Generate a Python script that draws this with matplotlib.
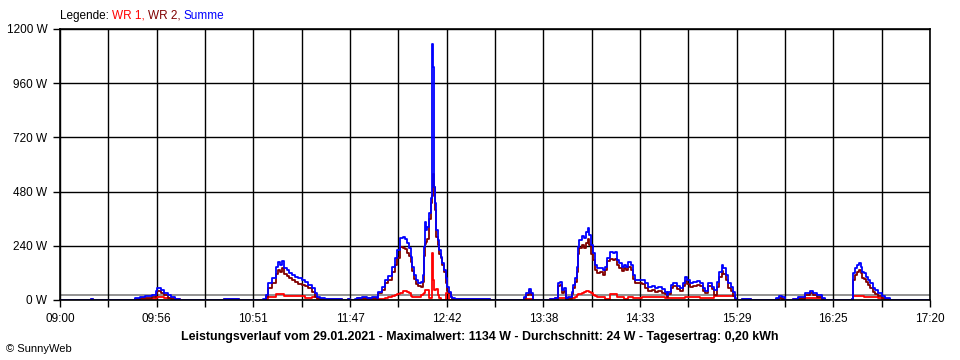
import matplotlib
matplotlib.use("Agg")
import matplotlib.pyplot as plt

plt.rcParams['font.family'] = ['Liberation Sans', 'DejaVu Sans']

# minutes after 09:00, power in W
minutes = [0, 18, 19, 43, 46, 49, 53, 55, 56, 58, 60, 62, 64, 66, 69, 94, 103,
           116.7, 118.4, 119.5, 121.8, 124.1, 125.3, 126.4, 127.6, 128.7, 130.5, 131.6, 133.3,
           135.1, 136.8, 139.1, 140.8, 142.5, 144.8, 146.6, 147.7, 149.4, 152.3, 156, 162,
           165.5, 166.5,
           169.5, 170.7, 173.6, 176.4, 179.3, 182.2, 182.8, 185.1, 186.8, 188.5, 190.8, 192.5,
           193.7, 195.4, 197.1, 198.3, 199.4, 200.6, 201.7, 202.3, 203.4, 204.6, 205.7, 207.5,
           208.6, 209.2, 209.8, 210.3, 210.9, 212.1, 213.2, 213.8, 214.4, 214.9, 215.5, 216.1,
           217.2, 217.8, 219.0, 219.5, 220.7, 221.8, 222.4, 223.6, 224.7, 225.3, 227, 247,
           266.7, 268, 269.5, 270.7, 271.8,
           281.6, 284.5, 286.2, 287.4, 288.5, 289.7, 290.8, 292.0, 294.3, 294.8, 296.0, 297.1,
           297.7, 298.3, 300.0, 301.1, 302.3, 303.4, 304.0, 305.2, 306.3, 307.5, 308.6, 310.3,
           312.1, 313.2, 314.4, 316.1, 317.8, 319.0, 320.1, 321.3, 323.0, 324.1, 325.3, 326.4,
           328.2, 329.3, 330.5, 332.2, 334.5, 336.2, 337.9, 340.2, 342.0, 343.7, 346.0, 347.7,
           348.9, 349.4, 351.1, 352.3, 354.6, 356.3, 358.0, 359.2, 360.3, 362.1, 363.8, 366.1,
           367.8, 369.5, 370.7, 372.4, 374.7, 375.9, 377.6, 378.7, 380.5, 381.0, 382.8, 383.9,
           385.6, 386.8, 387.9, 388.5, 392, 397,
           411.5, 413, 415, 416.7, 421.3, 424.1, 428.2, 431.0, 432.8, 435.1, 437.9, 439.7,
           455.2, 455.7, 456.9, 458.0, 459.2, 460.3, 460.9, 462.1, 463.2, 464.4, 465.5, 467.2,
           468.4, 470.1, 472.4, 474.1, 477.0, 500]

wr1 = [0, 0, 0, 4, 5, 6, 6, 8, 12, 12, 10, 10, 10, 4, 0, 1, 0,
       2, 5, 15, 15, 26, 26, 26, 26, 18, 18, 18, 18,
       18, 18, 18, 9, 9, 15, 15, 5, 2, 0, 0, 0,
       0, 0,
       2, 3, 3, 3, 3, 3, 4, 5, 8, 12, 18, 22,
       28, 32, 41, 41, 37, 30, 18, 14, 12, 14, 15, 22,
       28, 30, 44, 44, 44, 10, 10, 207, 89, 44, 44, 47,
       22, 10, 0, 0, 0, 30, 30, 0, 0, 0, 0, 0,
       2, 5, 5, 3, 0,
       3, 8, 8, 10, 8, 8, 5, 5, 8, 8, 15, 20,
       26, 26, 32, 36, 40, 40, 37, 30, 22, 18, 15, 15,
       15, 3, 3, 26, 26, 26, 15, 15, 15, 3, 3, 15,
       15, 10, 10, 10, 15, 15, 15, 15, 15, 15, 15, 7,
       7, 7, 7, 7, 7, 7, 7, 15, 15, 15, 15, 15,
       7, 7, 7, 7, 7, 18, 18, 18, 18, 18, 18, 18,
       18, 18, 0, 0, 0, 0,
       4, 7, 5, 0, 3, 7, 7, 7, 7, 7, 3, 0,
       0, 18, 18, 18, 18, 18, 18, 14, 14, 14, 14, 14,
       14, 10, 5, 2, 0, 0]

wr2 = [0, 3, 0, 6, 8, 9, 15, 28, 38, 32, 20, 9, 3, 2, 0, 3, 0,
       1, 15, 55, 76, 115, 135, 122, 140, 115, 108, 96, 88,
       80, 72, 66, 64, 52, 35, 15, 8, 4, 4, 3, 0,
       3, 0,
       1, 7, 9, 7, 9, 7, 30, 45, 75, 88, 125, 155,
       185, 235, 232, 224, 210, 195, 168, 128, 95, 72, 60, 58,
       80, 195, 250, 255, 270, 360, 430, 460, 560, 500, 400, 280,
       245, 205, 185, 155, 125, 75, 40, 30, 12, 4, 3, 0,
       8, 22, 38, 22, 0,
       0, 2, 62, 68, 32, 40, 2, 8, 26, 55, 78, 125,
       205, 232, 242, 230, 252, 268, 245, 205, 178, 135, 120, 122,
       112, 135, 172, 180, 175, 182, 155, 140, 128, 142, 135, 148,
       133, 95, 75, 75, 70, 55, 40, 44, 35, 38, 30, 26,
       12, 26, 54, 62, 50, 40, 64, 82, 70, 56, 62, 66,
       62, 42, 32, 62, 48, 24, 58, 100, 128, 115, 88, 52,
       38, 18, 5, 0, 3, 0,
       6, 10, 6, 0, 2, 4, 20, 30, 20, 13, 3, 0,
       3, 90, 110, 125, 135, 118, 98, 95, 80, 68, 55, 34,
       26, 16, 10, 4, 0, 0]

summe = [0, 3, 0, 10, 14, 16, 22, 38, 52, 46, 32, 20, 14, 6, 0, 4, 0,
         3, 22, 74, 96, 148, 167, 155, 174, 140, 133, 121, 111,
         103, 96, 89, 81, 66, 52, 30, 15, 7, 4, 3, 0,
         3, 0,
         3, 10, 12, 10, 12, 10, 37, 56, 89, 106, 148, 185,
         221, 273, 277, 269, 251, 229, 192, 148, 111, 89, 77, 81,
         111, 236, 347, 310, 325, 384, 450, 1134, 1030, 502, 430, 310,
         266, 221, 192, 162, 133, 96, 59, 37, 15, 7, 3, 0,
         12, 30, 47, 30, 0,
         3, 10, 74, 81, 44, 52, 7, 15, 37, 66, 96, 148,
         236, 266, 283, 273, 302, 317, 288, 244, 207, 155, 140, 143,
         133, 148, 185, 214, 207, 214, 177, 162, 148, 155, 148, 170,
         155, 111, 89, 89, 89, 74, 59, 62, 52, 56, 47, 37,
         22, 37, 66, 74, 62, 52, 77, 103, 89, 74, 81, 85,
         74, 52, 41, 74, 59, 44, 81, 125, 155, 140, 111, 74,
         59, 37, 7, 0, 3, 0,
         10, 18, 12, 0, 5, 12, 30, 40, 30, 22, 7, 0,
         3, 118, 140, 155, 165, 148, 125, 118, 103, 89, 74, 52,
         44, 30, 18, 7, 0, 0]

durchschnitt = 24
y_ticks = [0, 240, 480, 720, 960, 1200]
x_labels = ['09:00', '09:56', '10:51', '11:47', '12:42', '13:38', '14:33', '15:29', '16:25', '17:20']
total_minutes = 500
n_grid = 18

title = ('Leistungsverlauf vom 29.01.2021 - Maximalwert: 1134 W - '
         'Durchschnitt: 24 W - Tagesertrag: 0,20 kWh')

W, H = 960, 360
fig = plt.figure(figsize=(W / 100, H / 100), dpi=100)
fig.patch.set_facecolor('white')
ax = fig.add_axes([60 / W, 60 / H, 870 / W, 271 / H])

ax.axhline(durchschnitt, color='#808080', lw=1.2, zorder=1)
ax.plot(minutes, wr1, color='#ff0000', lw=1.3, drawstyle='steps-post', zorder=3)
ax.plot(minutes, wr2, color='#800000', lw=1.3, drawstyle='steps-post', zorder=3)
ax.plot(minutes, summe, color='#0000ff', lw=1.3, drawstyle='steps-post', zorder=4)

ax.set_xlim(0, total_minutes)
ax.set_ylim(0, 1200)

xt = [i * total_minutes / n_grid for i in range(n_grid + 1)]
labels = []
for i in range(n_grid + 1):
    labels.append(x_labels[i // 2] if i % 2 == 0 else '')
ax.set_xticks(xt)
ax.set_xticklabels(labels)
ax.set_yticks(y_ticks)
ax.set_yticklabels([f'{v} W' for v in y_ticks])
ax.grid(True, color='black', lw=1.0, zorder=2)
ax.set_axisbelow(False)
for s in ax.spines.values():
    s.set_color('black')
    s.set_linewidth(1.2)
    s.set_zorder(5)
ax.tick_params(direction='out', length=5, width=1.0, color='black', labelsize=8.5, pad=4)

# legend line at the top
renderer = fig.canvas.get_renderer()
x = 60
for txt, col in [('Legende:', 'black'), ('WR 1,', '#ff0000'), ('WR 2,', '#800000'), ('Summe', '#0000ff')]:
    t = fig.text(x / W, 1 - 16 / H, txt, color=col, fontsize=8.5, va='center', ha='left')
    x += t.get_window_extent(renderer).width + 3

fig.text(480 / W, 1 - 337 / H, title, ha='center', va='center', fontsize=8.9, fontweight='bold')
fig.text(6 / W, 1 - 349 / H, '© SunnyWeb', ha='left', va='center', fontsize=8)

fig.savefig('out.png', dpi=100)
